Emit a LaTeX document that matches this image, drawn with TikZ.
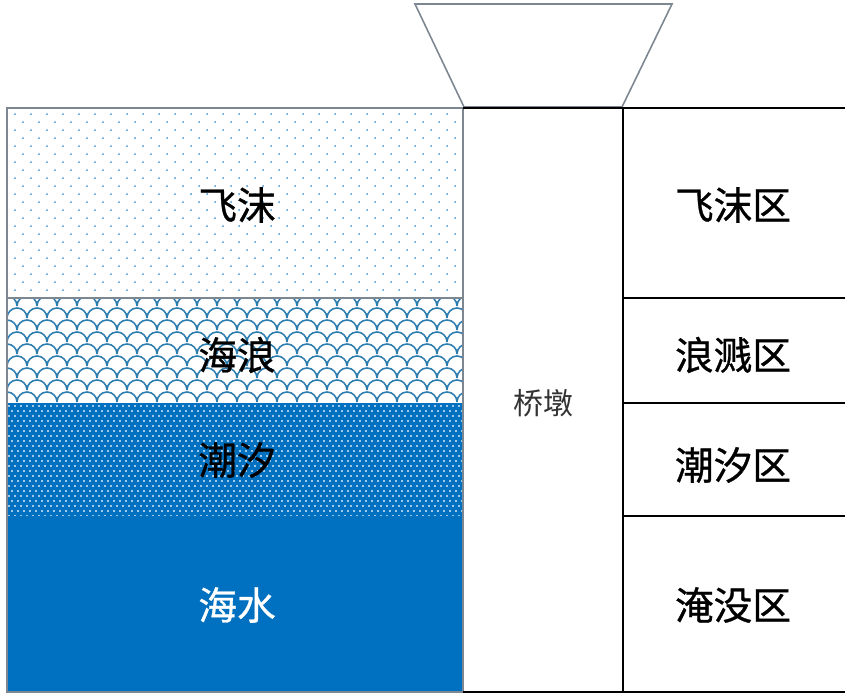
\documentclass[tikz,border=0pt]{standalone}
\usepackage{fontspec}
\newfontfamily\cjk{Noto Sans CJK SC}
\newfontfamily\cjkheavy[FakeBold=0.8]{Noto Sans CJK SC}
\definecolor{seablue}{RGB}{0,112,192}
\definecolor{spraydot}{RGB}{70,150,210}
\definecolor{waveline}{RGB}{45,125,175}
\definecolor{edgegray}{RGB}{125,135,145}
\tikzset{
	bandlabel/.style={font=\cjkheavy\fontsize{11}{13}\selectfont},
	zonelabel/.style={font=\cjkheavy\fontsize{11}{13}\selectfont},
	pierlabel/.style={font=\cjk\fontsize{8.5}{10}\selectfont,text=black!80},
	rule/.style={line width=0.45pt},
}
\begin{document}
\begin{tikzpicture}[x=0.01cm,y=-0.01cm]
	\useasboundingbox (0,0) rectangle (860,697);
	\begin{scope}
		\clip (7,108) rectangle (463,298);
		\foreach \r in {0,...,23}
			\foreach \c in {0,...,28}
				\fill[spraydot] ({15+16*\c+8*mod(\r,2)},{114+8*\r}) circle (1);
	\end{scope}
	\begin{scope}
		\clip (7,298) rectangle (463,403);
		\foreach \r in {0,...,9}
			\foreach \c in {0,...,23}
				\draw[waveline,line width=0.45pt] ({-3+20*\c+10*mod(\r,2)},{306+12*\r}) arc (180:360:10);
	\end{scope}
	\fill[seablue] (7,403) rectangle (463,516);
	\begin{scope}
		\clip (7,403) rectangle (463,516);
		\foreach \r in {0,...,22}
			\foreach \c in {0,...,76}
				\fill[white!85!seablue] ({9+6*\c+3*mod(\r,2)},{406+5*\r}) circle (1.2);
	\end{scope}
	\fill[seablue] (7,516) rectangle (463,692);
	\draw[edgegray,rule] (7,108) rectangle (463,692);
	\draw[edgegray,rule] (7,298) -- (463,298);
	\draw[edgegray,rule] (415,4) -- (672,4) -- (622,107) -- (464,107) -- cycle;
	\draw[rule] (463,108) -- (845,108);
	\draw[rule] (623,298) -- (845,298);
	\draw[rule] (623,403) -- (845,403);
	\draw[rule] (623,516) -- (845,516);
	\draw[rule] (463,692) -- (845,692);
	\draw[rule] (623,108) -- (623,692);
	\node[bandlabel] (spray) at (237,205) {飞沫};
	\node[bandlabel] (wave) at (237,355) {海浪};
	\node[bandlabel] (tide) at (237,460) {潮汐};
	\node[bandlabel,text=white] (sea) at (237,605) {海水};
	\node[pierlabel] (pier) at (543,403) {桥墩};
	\node[zonelabel] (sprayzone) at (733,205) {飞沫区};
	\node[zonelabel] (splashzone) at (733,355) {浪溅区};
	\node[zonelabel] (tidezone) at (733,465) {潮汐区};
	\node[zonelabel] (submergedzone) at (733,605) {淹没区};
\end{tikzpicture}
\end{document}
